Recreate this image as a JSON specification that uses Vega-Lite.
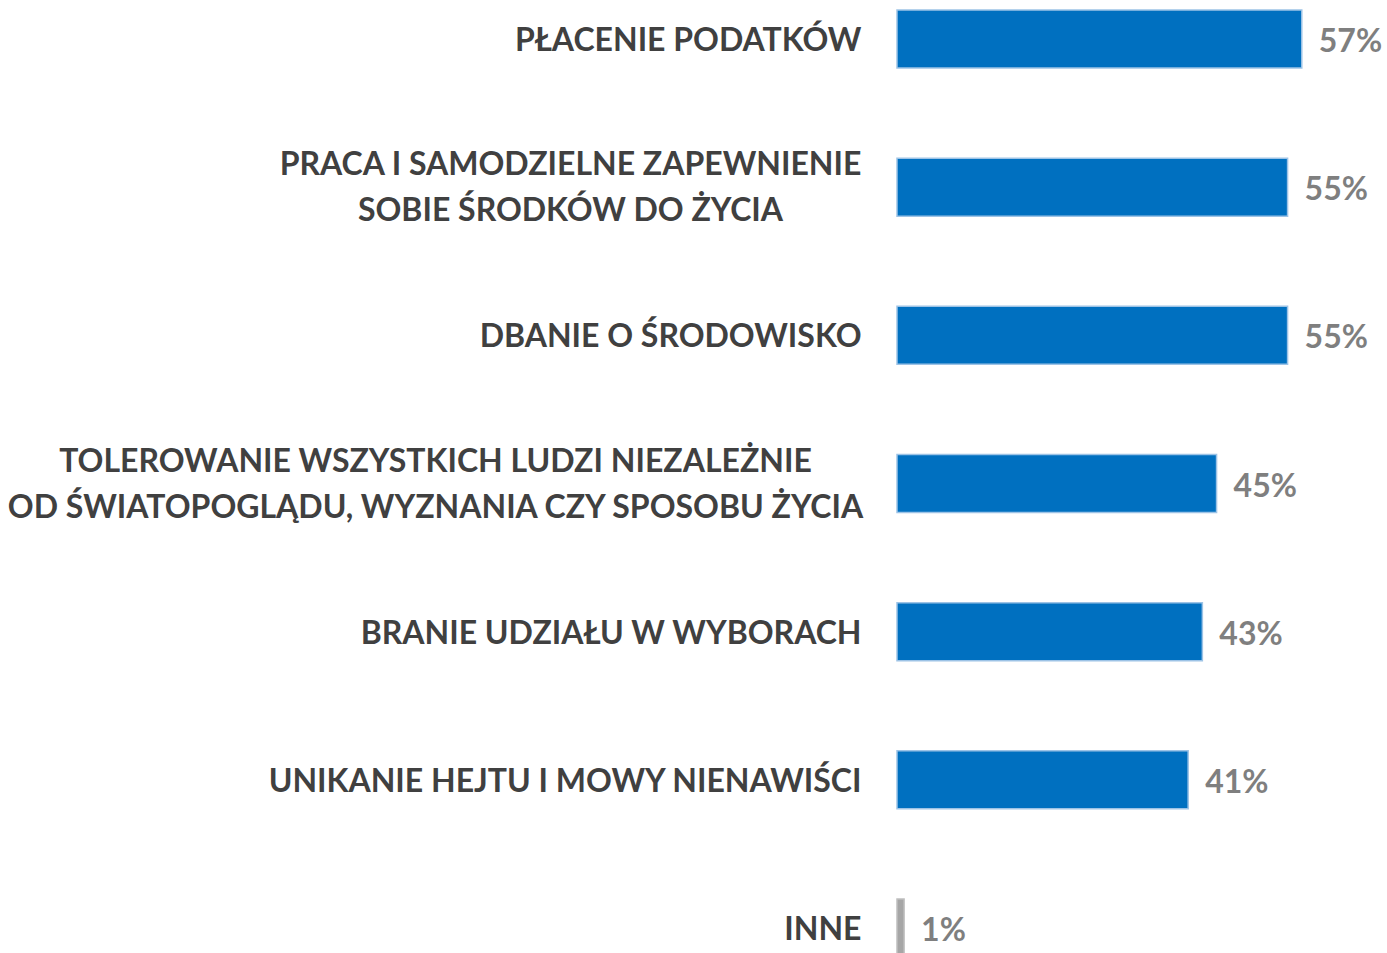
{
  "$schema": "https://vega.github.io/schema/vega-lite/v6.json",
  "width": 490,
  "height": 967,
  "autosize": {"type": "none"},
  "padding": {"left": 897, "top": 0, "right": 0, "bottom": 0},
  "background": "white",
  "config": {"view": {"stroke": null}},
  "data": {
    "values": [
      {"label": "PŁACENIE PODATKÓW", "value": 0.57},
      {"label": "PRACA I SAMODZIELNE ZAPEWNIENIE\nSOBIE ŚRODKÓW DO ŻYCIA", "value": 0.55},
      {"label": "DBANIE O ŚRODOWISKO", "value": 0.55},
      {"label": "TOLEROWANIE WSZYSTKICH LUDZI NIEZALEŻNIE\nOD ŚWIATOPOGLĄDU, WYZNANIA CZY SPOSOBU ŻYCIA", "value": 0.45},
      {"label": "BRANIE UDZIAŁU W WYBORACH", "value": 0.43},
      {"label": "UNIKANIE HEJTU I MOWY NIENAWIŚCI", "value": 0.41},
      {"label": "INNE", "value": 0.01}
    ]
  },
  "encoding": {
    "y": {
      "field": "label",
      "type": "nominal",
      "sort": null,
      "scale": {"paddingInner": 0.6086, "paddingOuter": 0.0675},
      "axis": {
        "title": null,
        "domain": false,
        "ticks": false,
        "labelExpr": "split(datum.label, '\\n')",
        "labelFont": "Lato",
        "labelFontWeight": "bold",
        "labelFontSize": 32,
        "labelColor": "#404040",
        "labelLineHeight": 46,
        "labelLimit": 1000,
        "labelAlign": {"condition": {"test": "indexof(datum.value, '\\n') >= 0", "value": "center"}, "value": "right"},
        "labelOffset": {"condition": {"test": "indexof(datum.value, '\\n') >= 0", "value": -22}, "value": 2},
        "labelPadding": {"condition": [
          {"test": "indexof(datum.value, 'PRACA') >= 0", "value": 327},
          {"test": "indexof(datum.value, 'TOLEROWANIE') >= 0", "value": 462}
        ], "value": 36}
      }
    },
    "x": {
      "field": "value",
      "type": "quantitative",
      "scale": {"domain": [0, 0.69]},
      "axis": null
    }
  },
  "layer": [
    {
      "mark": {"type": "bar", "strokeWidth": 1.5},
      "encoding": {
        "color": {"condition": {"test": "datum.label === 'INNE'", "value": "#A6A6A6"}, "value": "#0070C0"},
        "stroke": {"condition": {"test": "datum.label === 'INNE'", "value": "#BFBFBF"}, "value": "#9DC3E6"}
      }
    },
    {
      "mark": {"type": "text", "align": "left", "baseline": "middle", "dx": 17, "dy": 3, "font": "Lato", "fontWeight": "bold", "fontSize": 32, "color": "#7F7F7F"},
      "encoding": {
        "text": {"field": "value", "type": "quantitative", "format": ".0%"}
      }
    }
  ]
}
